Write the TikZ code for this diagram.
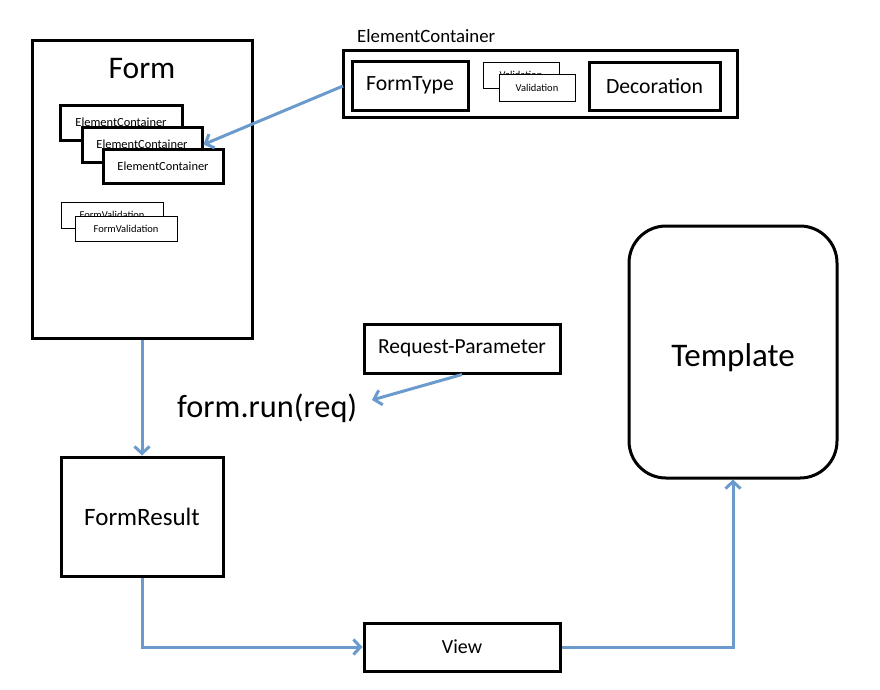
\documentclass[tikz,border=0pt]{standalone}
\usepackage{fontspec}
\setmainfont{Carlito}
\usetikzlibrary{arrows.meta}
\definecolor{flowblue}{RGB}{107,154,204}
\tikzset{
  box/.style={draw=black, line width=3pt, fill=white, inner sep=0pt, align=center},
  thinbox/.style={draw=black, line width=0.9pt, fill=white, inner sep=0pt, align=center},
  flow/.style={draw=flowblue, line width=3pt, -{Straight Barb[length=7pt,width=15pt]}},
  txt/.style={inner sep=0pt}
}
\begin{document}
\begin{tikzpicture}[x=1pt,y=-1pt]
\useasboundingbox (0,0) rectangle (880,689);
% Form
\node[box, minimum width=220pt, minimum height=298pt] (form) at (142,189) {};
\node[txt, anchor=base, font=\fontsize{31.5}{31.5}\selectfont] (formtitle) at (142,78) {Form};
\node[box, minimum width=122pt, minimum height=35pt, font=\fontsize{12.4}{12.4}\selectfont] (ec1) at (121,122.5) {ElementContainer};
\node[box, minimum width=120pt, minimum height=35pt, font=\fontsize{12.4}{12.4}\selectfont] (ec2) at (142,144.5) {ElementContainer};
\node[box, minimum width=120pt, minimum height=34pt, font=\fontsize{12.4}{12.4}\selectfont] (ec3) at (163,166) {ElementContainer};
\node[thinbox, minimum width=102pt, minimum height=26pt, font=\fontsize{10.5}{10.5}\selectfont] (fv1) at (112,215) {FormValidation};
\node[thinbox, minimum width=102pt, minimum height=25pt, font=\fontsize{10.5}{10.5}\selectfont] (fv2) at (126,228.5) {FormValidation};
% ElementContainer detail
\node[txt, anchor=base west, font=\fontsize{18.8}{18.8}\selectfont] (eclabel) at (357,42) {ElementContainer};
\node[box, minimum width=394pt, minimum height=67pt] (ecouter) at (540,83.5) {};
\node[box, minimum width=116pt, minimum height=49pt, font=\fontsize{21.7}{21.7}\selectfont] (formtype) at (410,85.5) {FormType};
\node[thinbox, minimum width=76pt, minimum height=26pt, font=\fontsize{10.5}{10.5}\selectfont] (val1) at (521,75) {Validation};
\node[thinbox, minimum width=76pt, minimum height=27pt, font=\fontsize{10.5}{10.5}\selectfont] (val2) at (537,87.5) {Validation};
\node[box, minimum width=131pt, minimum height=48pt, font=\fontsize{21.7}{21.7}\selectfont] (decoration) at (654.5,86) {Decoration};
% Request
\node[box, minimum width=196pt, minimum height=49pt, font=\fontsize{21.5}{21.5}\selectfont] (request) at (462,348.5) {Request-Parameter};
\node[txt, anchor=base west, font=\fontsize{32.3}{32.3}\selectfont] (run) at (177,417) {form.run(req)};
% Template
\node[box, rounded corners=37pt, minimum width=208pt, minimum height=252pt] (template) at (733,352) {};
\node[txt, anchor=base, font=\fontsize{33}{33}\selectfont] (templatetxt) at (733,366) {Template};
% FormResult and View
\node[box, minimum width=162pt, minimum height=119pt, font=\fontsize{25}{25}\selectfont] (result) at (142,516.5) {FormResult};
\node[box, minimum width=196pt, minimum height=48pt, font=\fontsize{20}{20}\selectfont] (view) at (462,647) {View};
% connectors
\coordinate (ecstart) at (343,86);
\coordinate (runend) at (372,400);
\draw[flow] (ecstart) -- (ec2.east);
\draw[flow] (request.south) -- (runend);
\draw[flow] (form.south) -- (result.north);
\draw[flow] (result.south) |- (view.west);
\draw[flow] (view.east) -| (template.south);
\end{tikzpicture}
\end{document}
